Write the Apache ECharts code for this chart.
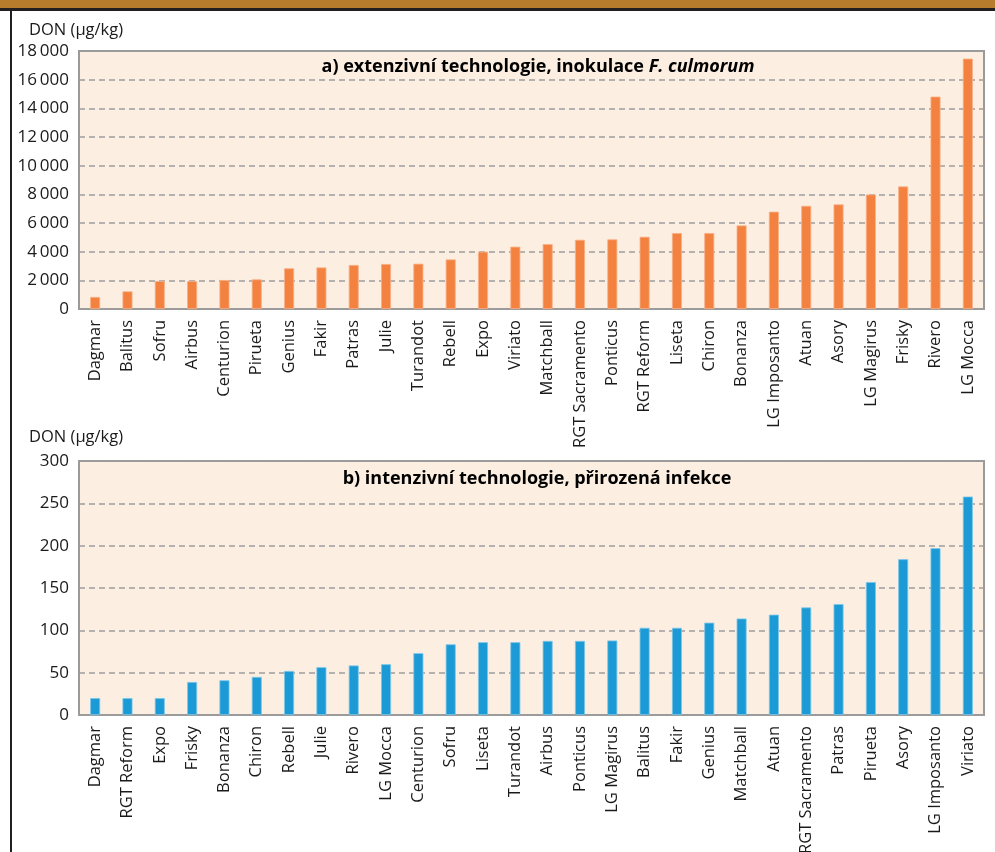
<!DOCTYPE html>
<html>
<head>
<meta charset="utf-8">
<script src="https://cdn.jsdelivr.net/npm/echarts@6/dist/echarts.min.js"></script>
<style>
html,body{margin:0;padding:0;background:#fff;}
#chart{width:995px;height:852px;}
</style>
</head>
<body>
<div id="chart"></div>
<script>
// Panel a) extenzivní technologie, inokulace F. culmorum
var categoriesA = ['Dagmar','Balitus','Sofru','Airbus','Centurion','Pirueta','Genius','Fakir','Patras','Julie','Turandot','Rebell','Expo','Viriato','Matchball','RGT Sacramento','Ponticus','RGT Reform','Liseta','Chiron','Bonanza','LG Imposanto','Atuan','Asory','LG Magirus','Frisky','Rivero','LG Mocca'];
var valuesA = [840,1230,1950,1950,2020,2070,2840,2900,3070,3140,3160,3460,4000,4350,4530,4830,4860,5040,5300,5300,5830,6790,7200,7300,7990,8550,14820,17470];

// Panel b) intenzivní technologie, přirozená infekce
var categoriesB = ['Dagmar','RGT Reform','Expo','Frisky','Bonanza','Chiron','Rebell','Julie','Rivero','LG Mocca','Centurion','Sofru','Liseta','Turandot','Airbus','Ponticus','LG Magirus','Balitus','Fakir','Genius','Matchball','Atuan','RGT Sacramento','Patras','Pirueta','Asory','LG Imposanto','Viriato'];
var valuesB = [20,20,20,39,41,45,52,56.5,58.5,60,73,83.5,86,86,87.5,87.5,88,103,103,109,114,118.5,127,131,157,184,197,258];

var ticksA = {min:0, max:18000, interval:2000};
var ticksB = {min:0, max:300, interval:50};

var FONT = '"Open Sans", "Noto Sans", sans-serif';
var TXT = '#1a1a1a';

function fmtThousands(v){
  var s = String(v);
  return s.length > 3 ? s.slice(0, s.length-3) + '\u2009' + s.slice(s.length-3) : s;
}

var chart = echarts.init(document.getElementById('chart'), null, {renderer:'canvas'});

function xAxisFor(idx, cats){
  return {
    type:'category', gridIndex: idx, data: cats,
    axisLine:{show:false}, axisTick:{show:false},
    axisLabel:{rotate:90, interval:0, margin:11, fontFamily:FONT, fontSize:16.5, color:TXT}
  };
}
function yAxisFor(idx, t, fmt){
  return {
    type:'value', gridIndex: idx, min:t.min, max:t.max, interval:t.interval,
    axisLine:{show:false}, axisTick:{show:false},
    axisLabel:{margin:10, fontFamily:FONT, fontSize:17, color:TXT, formatter: fmt},
    splitLine:{show:true, lineStyle:{type:[6,4], color:'#9d9d9d', width:1.5}}
  };
}

var option = {
  backgroundColor:'#ffffff',
  animation:false,
  title:[
    {
      text:'{b|a) extenzivní technologie, inokulace }{i|F. culmorum}',
      left:533, top:53, textAlign:'center',
      textStyle:{rich:{
        b:{fontFamily:FONT, fontSize:18, fontWeight:'bold', color:'#000'},
        i:{fontFamily:FONT, fontSize:18, fontWeight:'bold', fontStyle:'italic', color:'#000'}
      }}
    },
    {
      text:'b) intenzivní technologie, přirozená infekce',
      left:532, top:465, textAlign:'center',
      textStyle:{fontFamily:FONT, fontSize:18, fontWeight:'bold', color:'#000'}
    },
    {
      text:'DON (µg/kg)', left:24, top:17,
      textStyle:{fontFamily:FONT, fontSize:16.5, fontWeight:'normal', color:TXT}
    },
    {
      text:'DON (µg/kg)', left:24, top:424,
      textStyle:{fontFamily:FONT, fontSize:16.5, fontWeight:'normal', color:TXT}
    }
  ],
  grid:[
    {left:79, top:51, width:905, height:258, outerBoundsMode:'none', containLabel:false, show:true, backgroundColor:'#fcefe1', borderColor:'#9a9a9a', borderWidth:2},
    {left:79, top:461, width:905, height:254, outerBoundsMode:'none', containLabel:false, show:true, backgroundColor:'#fcefe1', borderColor:'#9a9a9a', borderWidth:2}
  ],
  xAxis:[ xAxisFor(0, categoriesA), xAxisFor(1, categoriesB) ],
  yAxis:[ yAxisFor(0, ticksA, fmtThousands), yAxisFor(1, ticksB, function(v){return String(v);}) ],
  series:[
    {type:'bar', xAxisIndex:0, yAxisIndex:0, data:valuesA, barWidth:10,
     itemStyle:{color:'#f38240', borderColor:'#f9b088', borderWidth:0.8}, z:3},
    {type:'bar', xAxisIndex:1, yAxisIndex:1, data:valuesB, barWidth:10,
     itemStyle:{color:'#1c9ad6', borderColor:'#7cc6ea', borderWidth:0.8}, z:3}
  ],
  graphic:[
    {type:'rect', shape:{x:0, y:0, width:995, height:8}, style:{fill:'#b87d2c'}, silent:true},
    {type:'rect', shape:{x:0, y:8, width:995, height:3}, style:{fill:'#231f20'}, silent:true},
    {type:'rect', shape:{x:10, y:8, width:2, height:844}, style:{fill:'#231f20'}, silent:true}
  ]
};
chart.setOption(option);
</script>
</body>
</html>
